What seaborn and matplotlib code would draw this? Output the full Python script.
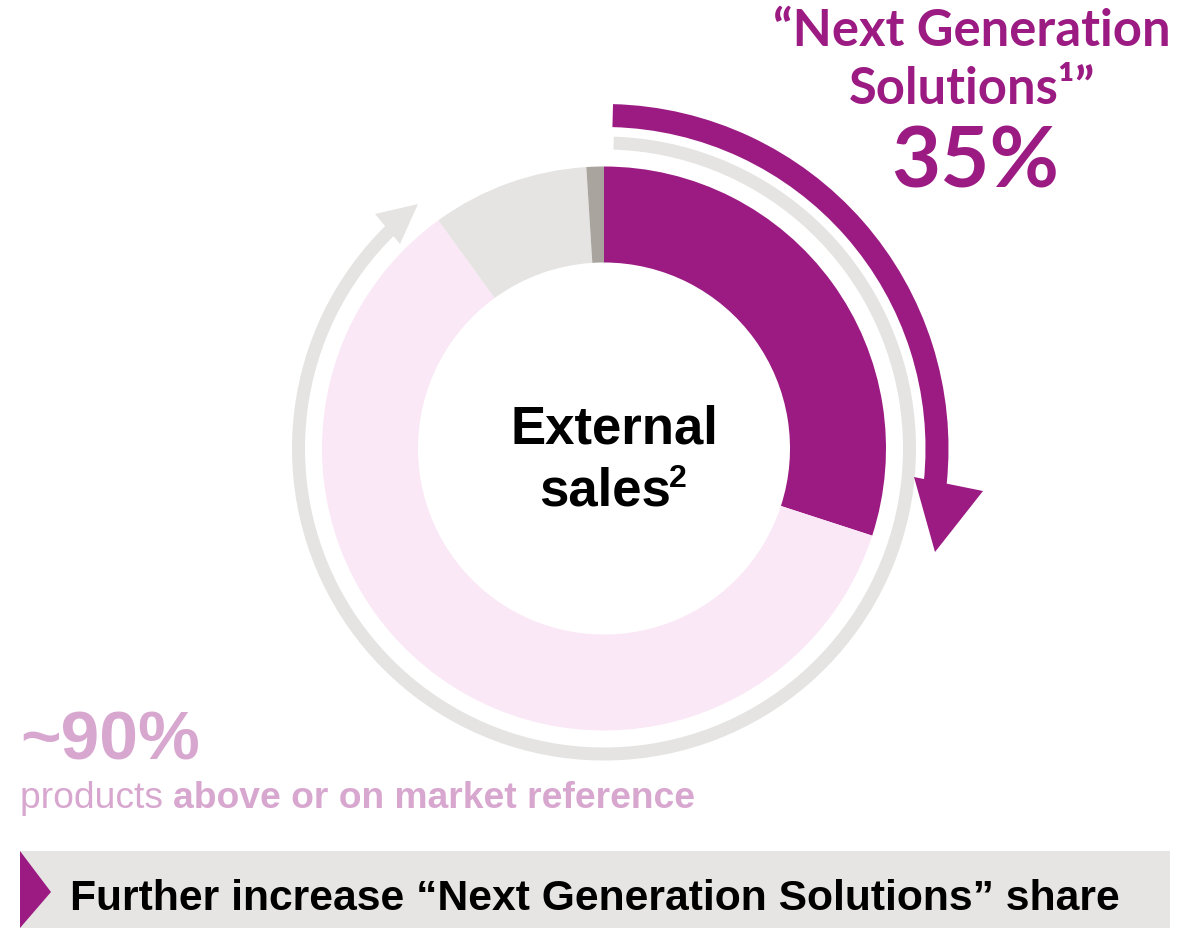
import matplotlib
matplotlib.use("Agg")
import matplotlib.pyplot as plt
from matplotlib.patches import Wedge, Polygon, Rectangle
import seaborn as sns

# ---- data ----
segments = ["Next Generation Solutions", "Above or on market reference", "Other", "Remainder"]
shares = [30.0, 60.0, 9.0, 1.0]
seg_colors = ["#9B1B83", "#FAE8F6", "#E5E4E2", "#A9A49E"]
headline_label = "35%"
headline_title = ["\u201cNext Generation", "Solutions\u00b9\u201d"]
share_label = "~90%"
share_caption_regular = "products "
share_caption_bold = "above or on market reference"
center_label = ["External", "sales"]
center_sup = "2"
footer_text = "Further increase \u201cNext Generation Solutions\u201d share"

PURPLE = "#9B1B83"
PINK_TXT = "#D8A7CF"
LGRAY = "#E5E4E2"

sns.set_theme(style="white")
plt.rcParams["font.family"] = ["Liberation Sans", "DejaVu Sans"]

W, H = 1199, 929
fig = plt.figure(figsize=(W / 100, H / 100), dpi=100)
ax = fig.add_axes([0, 0, 1, 1])

def Y(y):
    return H - y

cx, cy = 604, Y(449.5)
R_out, ring_w = 282, 96

ax.pie(shares, colors=sns.color_palette(seg_colors), startangle=90, counterclock=False,
       radius=R_out, center=(cx, cy), wedgeprops=dict(width=ring_w, linewidth=0))

ax.set_xlim(0, W)
ax.set_ylim(0, H)
ax.set_aspect("equal")
ax.axis("off")

# grey surrounding arc arrow
ax.add_patch(Wedge((cx, cy), 312, 134.0, 448.2, width=13, facecolor=LGRAY, linewidth=0))
ax.add_patch(Polygon([(375, Y(215)), (418, Y(205)), (400, Y(245))], closed=True,
                     facecolor=LGRAY, linewidth=0))

# purple arc arrow
ax.add_patch(Wedge((cx, cy), 344.5, -6.0, 88.5, width=23, facecolor=PURPLE, linewidth=0))
ax.add_patch(Polygon([(914, Y(478)), (983, Y(492)), (935, Y(553))], closed=True,
                     facecolor=PURPLE, linewidth=0))

# center text
ax.text(614, Y(443), center_label[0], ha="center", va="baseline", fontsize=38,
        fontweight="bold", color="black")
ax.text(539, Y(505), center_label[1], ha="left", va="baseline", fontsize=38,
        fontweight="bold", color="black")
ax.text(669, Y(487), center_sup, ha="left", va="baseline", fontsize=23,
        fontweight="bold", color="black")

# headline
ax.text(972, Y(46), headline_title[0], ha="center", va="baseline", fontsize=36.5,
        fontweight="bold", color=PURPLE, family=["Lato", "DejaVu Sans"])
ax.text(972, Y(104), headline_title[1], ha="center", va="baseline", fontsize=36.5,
        fontweight="bold", color=PURPLE, family=["Lato", "DejaVu Sans"])
ax.text(975, Y(188), headline_label, ha="center", va="baseline", fontsize=61,
        fontweight="bold", color=PURPLE, family=["Lato", "DejaVu Sans"])

# ~90% block
ax.text(20, Y(760), share_label, ha="left", va="baseline", fontsize=50,
        fontweight="bold", color=PINK_TXT)
t1 = ax.text(20, Y(808), share_caption_regular, ha="left", va="baseline", fontsize=26.8,
             color=PINK_TXT)
ax.annotate(share_caption_bold, xy=(1, 0), xycoords=t1, ha="left", va="bottom",
            fontsize=26.8, fontweight="bold", color=PINK_TXT)

# footer bar
ax.add_patch(Rectangle((20, 0), 1150, 77, facecolor="#E6E5E3", linewidth=0))
ax.add_patch(Polygon([(20, Y(852)), (51, Y(893)), (20, Y(929))], closed=True,
                     facecolor=PURPLE, linewidth=0))
ax.text(70, Y(910), footer_text, ha="left", va="baseline", fontsize=30.7,
        fontweight="bold", color="black")

fig.savefig("out.png", dpi=100)
